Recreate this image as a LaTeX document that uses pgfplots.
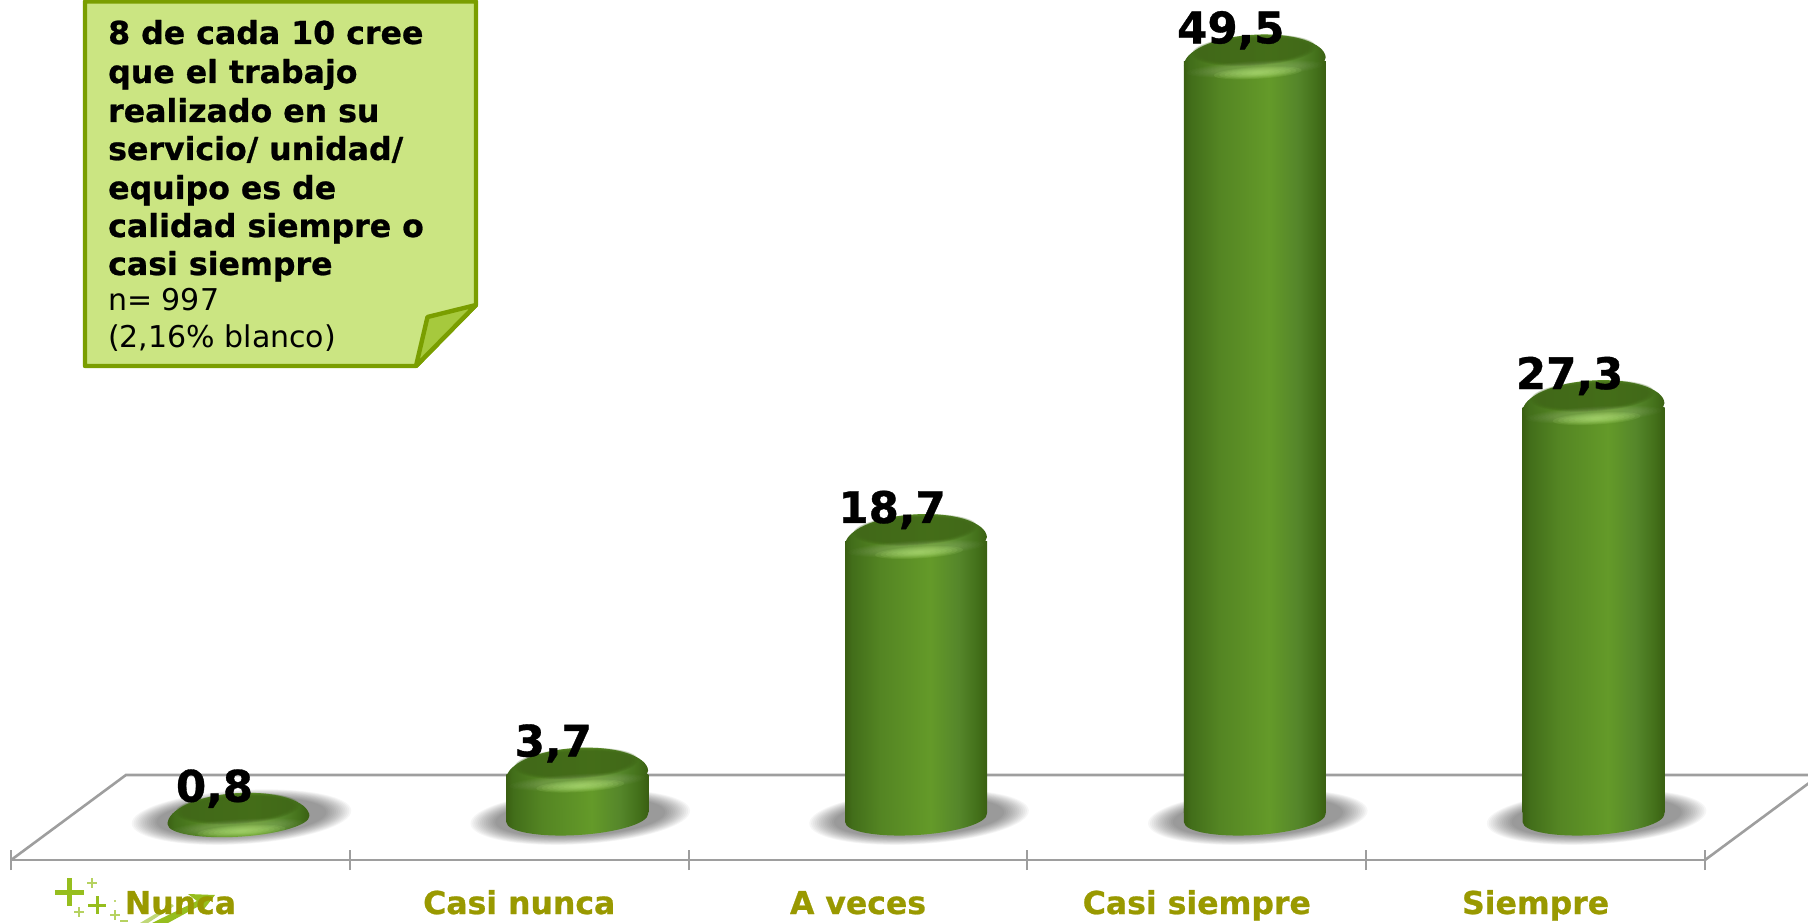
\documentclass[border=0pt]{standalone}
\usepackage{fontspec}
\setmainfont[BoldFeatures={FakeBold=0.8}]{DejaVu Sans}
\usepackage{pgfplots}
\usepackage{pgfplotstable}
\pgfplotsset{compat=1.18}
\usetikzlibrary{shadings}
\definecolor{c0}{HTML}{3A5F12}
\definecolor{c1}{HTML}{426E1A}
\definecolor{c2}{HTML}{548523}
\definecolor{c3}{HTML}{649A29}
\definecolor{c4}{HTML}{55862A}
\definecolor{c5}{HTML}{43701A}
\definecolor{capin}{HTML}{416818}
\definecolor{caphl}{HTML}{B4E478}
\definecolor{labcol}{HTML}{999900}
\definecolor{linecol}{HTML}{9E9E9E}
\definecolor{notefill}{HTML}{CBE582}
\definecolor{noteline}{HTML}{7A9E00}
\definecolor{notefold}{HTML}{A6C93D}
\definecolor{deco}{HTML}{96BE1E}
\pgfdeclarehorizontalshading{cyl}{100bp}{color(0bp)=(c0);color(25bp)=(c0);color(27.5bp)=(c1);color(37.5bp)=(c2);color(55bp)=(c3);color(65bp)=(c4);color(71.5bp)=(c5);color(75bp)=(c0);color(100bp)=(c0)}
% tilted ellipse: centre x, centre y, semi-axes a, b (tilt 3.5 degrees)
\newcommand\tilted[4]{\pgfpathellipse{\pgfpoint{#1pt}{#2pt}}{\pgfpoint{0.998*(#3)*1pt}{0.061*(#3)*1pt}}{\pgfpoint{-0.061*(#4)*1pt}{0.998*(#4)*1pt}}}
\newcommand\softell[8]{% x y a0 da b0 db color opacity ; 8 nested ellipses
  \pgfscope\pgfsetfillcolor{#7}\pgfsetfillopacity{#8}%
  \foreach \k in {0,...,7}{\tilted{#1}{#2}{#3-\k*#4}{#5-\k*#6}\pgfusepath{fill}}%
  \endpgfscope}
\pgfdeclareplotmark{cylshadow}{%
  \pgfscope\pgfsetfillcolor{black}\pgfsetfillopacity{.037}%
  \foreach \k in {0,...,13}{\tilted{61}{15.5}{110-\k*1.9}{27-\k*.6}\pgfusepath{fill}}%
  \endpgfscope}
\pgfdeclareplotmark{cylbase}{%
  \pgfscope
  \pgfpathmoveto{\pgfpoint{58pt-70.87pt}{14.6pt-4.33pt+14pt}}%
  \pgfpathlineto{\pgfpoint{58pt-70.87pt}{14.6pt-4.33pt}}%
  \pgfpatharcaxes{180}{360}{\pgfpoint{70.87pt}{4.33pt}}{\pgfpoint{-1.04pt}{17pt}}%
  \pgfpathlineto{\pgfpoint{58pt+70.87pt}{14.6pt+4.33pt+4pt}}%
  \pgfpathclose
  \pgfshadepath{cyl}{0}\pgfusepath{discard}%
  \endpgfscope}
\pgfdeclareplotmark{cyldisk}{%
  \pgfscope
  \pgfpathmoveto{\pgfpoint{58pt-70.87pt}{14.6pt-4.33pt}}%
  \pgfpatharcaxes{180}{360}{\pgfpoint{70.87pt}{4.33pt}}{\pgfpoint{-1.04pt}{17pt}}%
  \pgfpathclose
  \pgfshadepath{cyl}{0}\pgfusepath{discard}%
  \endpgfscope}
\pgfdeclareplotmark{cyltop}{%
  \pgfscope
  \pgfpathmoveto{\pgfpoint{58pt-70.87pt}{-4.33pt}}%
  \pgfpatharcaxes{180}{0}{\pgfpoint{70.87pt}{4.33pt}}{\pgfpoint{-1.65pt}{27pt}}%
  \pgfpatharcaxes{0}{-180}{\pgfpoint{70.87pt}{4.33pt}}{\pgfpoint{-1.0pt}{16.5pt}}%
  \pgfpathclose
  \pgfshadepath{cyl}{0}\pgfusepath{discard}%
  \endpgfscope
  \softell{57}{11.5}{62}{1.2}{15.5}{.5}{capin}{.22}%
  \softell{58}{-7}{68}{4}{8}{.6}{white}{.02}%
  \softell{61}{-11}{44}{5.4}{6}{.68}{caphl}{.13}%
  }
\pgfplotstableread{
x y
0 0.8
1 3.7
2 18.7
3 49.5
4 27.3
}\datos
\pgfplotstableread{
x y
0 0
1 0
2 0
3 0
4 0
}\base
\pgfplotstableread{
x y
1 0
2 0
3 0
4 0
}\basetall
\pgfplotsset{cylbody/.style={ybar,bar width=142pt,bar shift=58pt,draw=none,shade,shading=cyl}}
\begin{document}
\begin{tikzpicture}
% decorative plus signs and arrow (behind the category labels)
\begin{scope}[x=1pt,y=-1pt,xshift=-11.1pt,yshift=860pt]
  \fill[deco] (55,889.5) rectangle (84,894.5);
  \fill[deco] (67,878) rectangle (72,906);
  \fill[deco] (88,903.5) rectangle (106,906.5);
  \fill[deco] (95.5,896) rectangle (98.5,914);
  \fill[deco!70!white] (87,882.2) rectangle (97,883.8);
  \fill[deco!70!white] (91.2,878) rectangle (92.8,888);
  \fill[deco!70!white] (74,911.2) rectangle (84,912.8);
  \fill[deco!70!white] (78.2,907) rectangle (79.8,917);
  \fill[deco!70!white] (110,914.2) rectangle (120,915.8);
  \fill[deco!70!white] (114.2,910) rectangle (115.8,920);
  \fill[deco!70!white] (120,920.2) rectangle (128,921.8);
  \fill[deco!60!white] (113.5,899.5) rectangle (116,902);
  \fill[deco] (152,923) -- (197,901) -- (188,894) -- (215,895) -- (201,913) -- (199,906) -- (168,923) -- cycle;
  \fill[deco!60!white] (140,923) -- (172,904) -- (174,906) -- (148,923) -- cycle;
\end{scope}
% floor and shadows; the x axis is the front edge
\begin{axis}[
  name=floor, scale only axis, width=1693.9pt, height=860pt,
  xmin=-0.5, xmax=4.5, ymin=-1.759, ymax=53.47, clip=false,
  axis x line=bottom, axis y line=none, axis line style={linecol,line width=2.8pt,-},
  xtick={0,1,2,3,4},
  xticklabels={Nunca,Casi nunca,A veces,Casi siempre,Siempre},
  major tick length=0pt,
  minor xtick={-0.5,0.5,1.5,2.5,3.5,4.5},
  minor tick length=20pt,
  minor tick style={linecol,line width=2pt},
  xticklabel style={font=\bfseries\fontsize{31.5}{32}\selectfont,text=labcol,anchor=base,yshift=-54pt,inner sep=0pt},
]
\addplot[linecol,line width=2.6pt] coordinates {(-0.5,-1.759)(-0.161,3.7)(4.839,3.7)(4.5,-1.759)};
\addplot[only marks,mark=cylshadow] table[x=x,y=y] {\base};
\end{axis}
% bodies of the cylinders, same scale; the lower edge cuts the bars at their base
\begin{axis}[
  at={(0pt,48pt)}, anchor=south west,
  scale only axis, width=1693.9pt, height=812pt,
  xmin=-0.5, xmax=4.5, ymin=1.323, ymax=53.47, axis lines=none,
]
\addplot[cylbody] coordinates {(1,3.7)};
\addplot[cylbody] coordinates {(2,18.7)};
\addplot[cylbody] coordinates {(3,49.5)};
\addplot[cylbody] coordinates {(4,27.3)};
\end{axis}
% bottoms, tops and value labels of the cylinders
\begin{axis}[
  scale only axis, width=1693.9pt, height=860pt,
  xmin=-0.5, xmax=4.5, ymin=-1.759, ymax=53.47, axis lines=none, clip=false,
  /pgf/number format/.cd, fixed, fixed zerofill, precision=1, use comma, assume math mode=true,
]
\addplot[only marks,mark=cyldisk] coordinates {(0,0)};
\addplot[only marks,mark=cylbase] table[x=x,y=y] {\basetall};
\addplot[only marks,mark=cyltop,
  nodes near coords,
  every node near coord/.style={anchor=center,xshift=34pt,yshift=31.5pt,inner sep=0pt,text=black,font=\bfseries\fontsize{43.5}{44}\selectfont},
  ] table[x=x,y=y] {\datos};
\end{axis}
% note
\begin{scope}[x=1pt,y=-1pt,xshift=-11.1pt,yshift=860pt]
  \draw[noteline,fill=notefill,line width=4.4pt,line join=round] (85,1.5) -- (476,1.5) -- (476,305) -- (416,366) -- (85,366) -- cycle;
  \draw[noteline,fill=notefold,line width=4.4pt,line join=round] (416,366) -- (427.5,317) -- (476,305) -- cycle;
  \tikzset{nb/.style={anchor=base west,inner sep=0pt,font=\bfseries\fontsize{31.6}{32}\selectfont},
           nr/.style={anchor=base west,inner sep=0pt,font=\fontsize{30}{30}\selectfont}}
  \node[nb] at (108,44) {8 de cada 10 cree};
  \node[nb] at (108,83) {que el trabajo};
  \node[nb] at (108,122) {realizado en su};
  \node[nb] at (108,160) {servicio/ unidad/};
  \node[nb] at (108,199) {equipo es de};
  \node[nb] at (108,237) {calidad siempre o};
  \node[nb] at (108,275) {casi siempre};
  \node[nr] at (108,311) {n= 997};
  \node[nr] at (108,348) {(2,16\% blanco)};
\end{scope}
\pgfresetboundingbox
\path[use as bounding box] (-11.1pt,-62pt) rectangle (1796.9pt,860pt);
\end{tikzpicture}
\end{document}
